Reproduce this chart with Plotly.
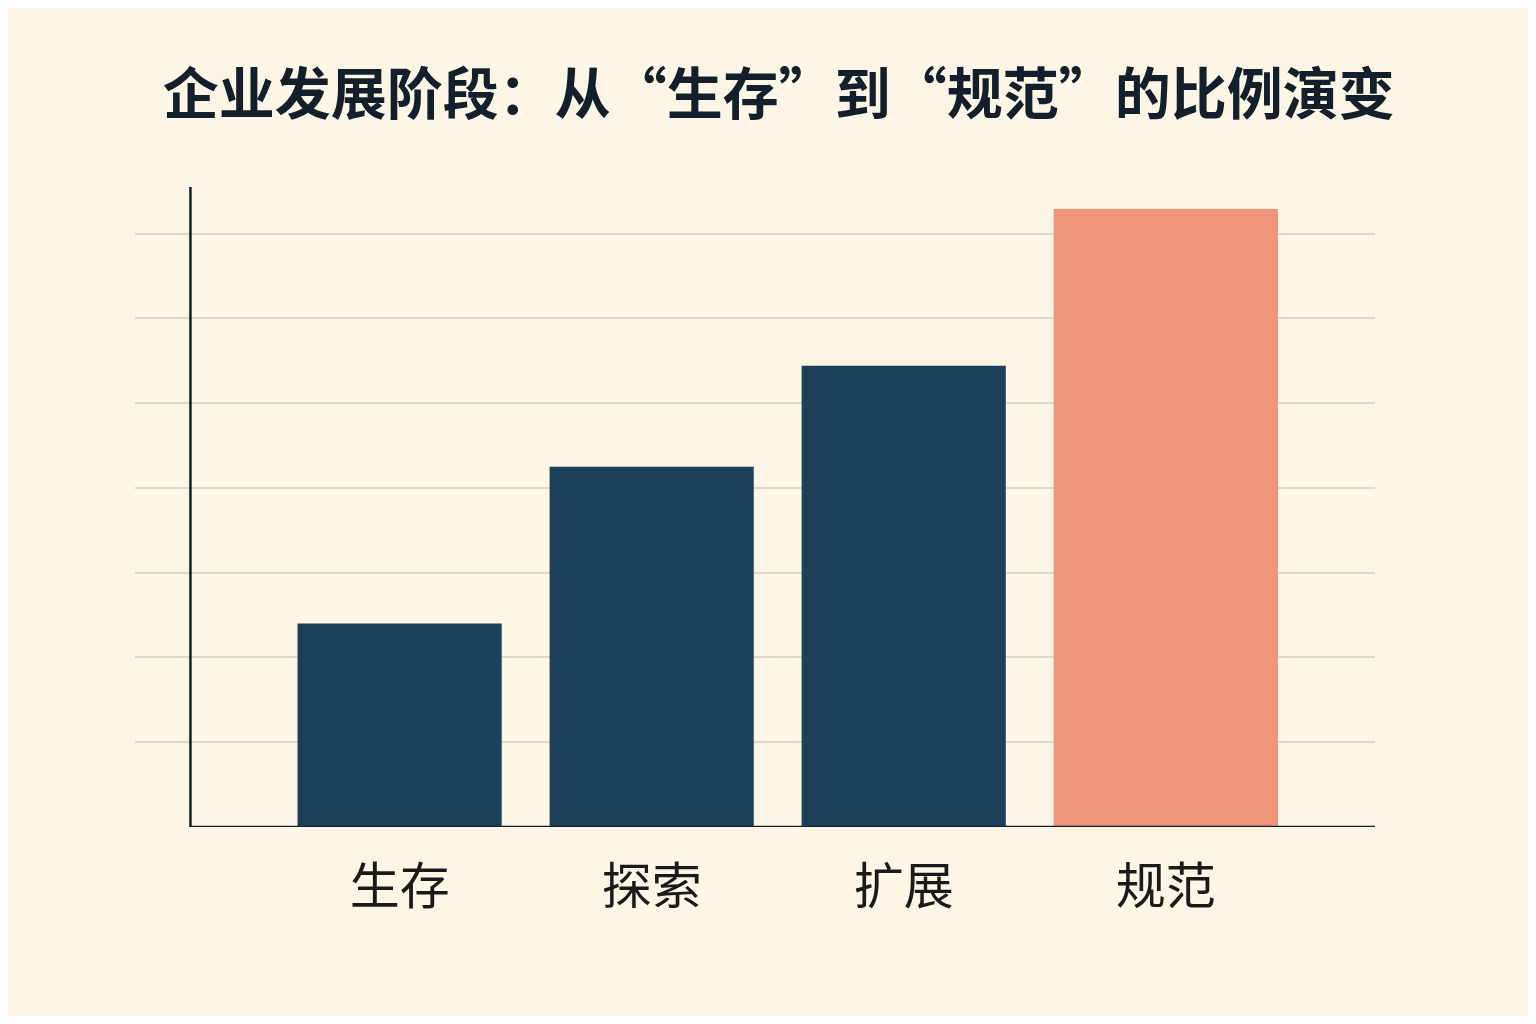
import plotly.graph_objects as go

stages = ['生存', '探索', '扩展', '规范']
values = [2.4, 4.25, 5.44, 7.29]
bar_colors = ['#1c3f5a', '#1c3f5a', '#1c3f5a', '#ef9478']
bar_widths = [0.81, 0.81, 0.81, 0.89]
positions = [0, 1, 2, 3.04]

fig = go.Figure()
fig.add_trace(go.Bar(
    x=positions, y=values, width=bar_widths,
    marker=dict(color=bar_colors, line=dict(width=0)),
))

# page adds an 8px body margin, so size the figure a little smaller
fig.update_layout(
    width=1520, height=1008,
    paper_bgcolor='#fdf5e6', plot_bgcolor='#fdf5e6',
    margin=dict(l=127, r=153, t=179, b=189),
    showlegend=False,
    font=dict(family='Noto Sans CJK SC', color='#1a1a1a'),
    title=dict(text='<b>企业发展阶段：从“生存”到“规范”的比例演变</b>',
               x=0.507, xanchor='center', y=0.914, yanchor='middle',
               font=dict(size=56, color='#13202b')),
)
fig.update_xaxes(range=[-1.05, 3.87], tickvals=positions, ticktext=stages,
                 tickfont=dict(size=50, color='#1a1a1a'), showgrid=False,
                 zeroline=False, showline=False, ticks='', ticklen=0,
                 ticklabelstandoff=26)
fig.update_yaxes(range=[0, 7.55], dtick=1, showgrid=True, gridcolor='#dcd9c6',
                 gridwidth=2, showticklabels=False, zeroline=False, showline=False)

# axis lines
fig.add_shape(type='line', xref='x', yref='paper', x0=-0.83, x1=-0.83, y0=0, y1=1,
              line=dict(color='#13202b', width=2.5))
fig.add_shape(type='line', xref='x', yref='y', x0=-0.83, x1=3.87, y0=0, y1=0,
              line=dict(color='#13202b', width=2.5))

fig.write_html('out.html')
